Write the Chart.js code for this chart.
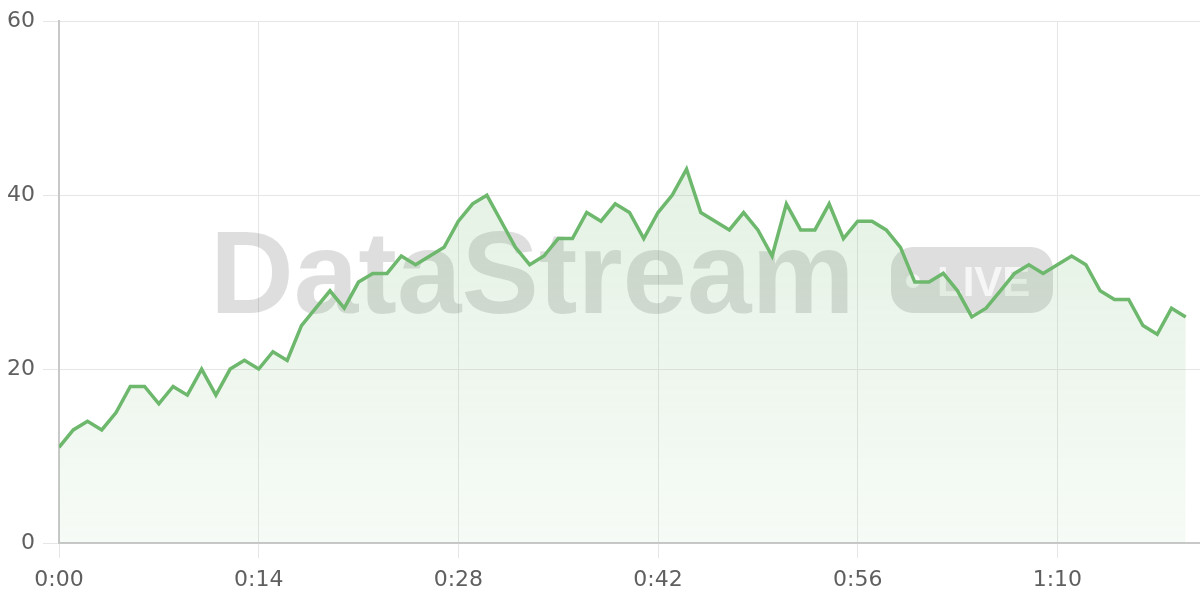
<!DOCTYPE html>
<html>
<head>
<meta charset="utf-8">
<script src="https://cdn.jsdelivr.net/npm/chart.js@4.4.1/dist/chart.umd.min.js"></script>
<style>
  html, body { margin: 0; padding: 0; background: #fff; }
  #wrap { width: 1200px; height: 600px; position: relative; }
</style>
</head>
<body>
<div id="wrap"><canvas id="streamChart"></canvas></div>
<script>
// one reading per second
const viewers = [11, 13, 14, 13, 15, 18, 18, 16, 18, 17, 20, 17, 20, 21, 20, 22, 21, 25, 27, 29,
  27, 30, 31, 31, 33, 32, 33, 34, 37, 39, 40, 37, 34, 32, 33, 35, 35, 38, 37, 39,
  38, 35, 38, 40, 43, 38, 37, 36, 38, 36, 33, 39, 36, 36, 39, 35, 37, 37, 36, 34,
  30, 30, 31, 29, 26, 27, 29, 31, 32, 31, 32, 33, 32, 29, 28, 28, 25, 24, 27, 26];
const seconds = viewers.map((_, i) => i);
const xTickStep = 14;   // 0:00, 0:14, 0:28 ...
const xMax = 80;
const yTicks = [0, 20, 40, 60];

function fmtTime(s) {
  const m = Math.floor(s / 60);
  const r = s % 60;
  return m + ':' + String(r).padStart(2, '0');
}

// faint "DataStream LIVE" mark behind the line
const watermark = {
  id: 'watermark',
  beforeDatasetsDraw(chart) {
    const ctx = chart.ctx;
    ctx.save();
    ctx.fillStyle = 'rgba(0,0,0,0.13)';
    ctx.font = 'bold 116px "Liberation Sans", Arial, sans-serif';
    ctx.textBaseline = 'alphabetic';
    ctx.textAlign = 'left';
    ctx.fillText('DataStream', 210, 313);

    // pill
    const px = 891, py = 247, pw = 162, ph = 66, r = 22;
    ctx.beginPath();
    ctx.roundRect(px, py, pw, ph, r);
    ctx.fill();

    ctx.fillStyle = 'rgba(255,255,255,0.7)';
    ctx.beginPath();
    ctx.arc(913, 281, 7, 0, Math.PI * 2);
    ctx.fill();
    ctx.font = 'bold 42px "Liberation Sans", Arial, sans-serif';
    ctx.fillText('LIVE', 937, 296);
    ctx.restore();
  }
};

const ctx = document.getElementById('streamChart').getContext('2d');
new Chart(ctx, {
  type: 'line',
  data: {
    labels: seconds,
    datasets: [{
      data: viewers,
      borderColor: '#6db86d',
      borderWidth: 3.5,
      pointRadius: 0,
      tension: 0,
      fill: 'origin',
      backgroundColor: (c) => {
        const area = c.chart.chartArea;
        if (!area) return 'rgba(111,184,111,0.15)';
        const g = c.chart.ctx.createLinearGradient(0, area.top, 0, area.bottom);
        g.addColorStop(0, 'rgba(111,184,111,0.24)');
        g.addColorStop(1, 'rgba(111,184,111,0.06)');
        return g;
      }
    }]
  },
  options: {
    responsive: true,
    maintainAspectRatio: false,
    animation: false,
    layout: { padding: { top: 20, right: 0, left: 0, bottom: 0 } },
    plugins: {
      legend: { display: false },
      tooltip: { enabled: false }
    },
    scales: {
      x: {
        type: 'linear',
        min: 0,
        max: xMax,
        afterBuildTicks: (scale) => {
          scale.ticks = scale.ticks.filter(t => t.value % xTickStep === 0 && t.value < xMax);
        },
        afterFit: (scale) => { scale.height = 57; },
        ticks: {
          stepSize: xTickStep,
          maxRotation: 0,
          padding: 9,
          color: '#5f5f5f',
          font: { family: '"DejaVu Sans", sans-serif', size: 22 },
          callback: (v) => fmtTime(v)
        },
        grid: { color: '#e6e6e6', lineWidth: 1, tickLength: 15 },
        border: { color: '#c8c8c8', width: 2 }
      },
      y: {
        min: 0,
        max: 60,
        afterBuildTicks: (scale) => {
          scale.ticks = yTicks.map(v => ({ value: v }));
        },
        afterFit: (scale) => { scale.width = 59; },
        ticks: {
          padding: 8,
          color: '#5f5f5f',
          font: { family: '"DejaVu Sans", sans-serif', size: 22 }
        },
        grid: { color: '#e6e6e6', lineWidth: 1, tickLength: 16 },
        border: { color: '#c8c8c8', width: 2 }
      }
    }
  },
  plugins: [watermark]
});
</script>
</body>
</html>
